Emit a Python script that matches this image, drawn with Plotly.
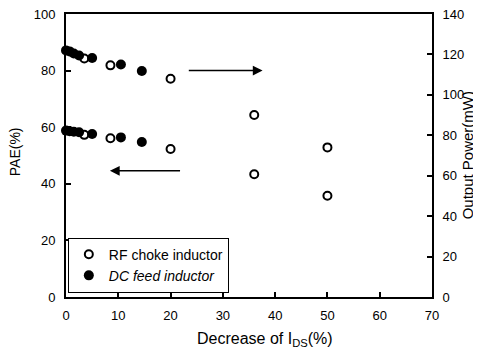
import plotly.graph_objects as go

# Data
rf_x = [3.5, 8.5, 20, 36, 50]
rf_pae = [57.3, 56.1, 52.3, 43.4, 35.8]
rf_power = [118.0, 114.6, 108.0, 90.0, 74.0]

dc_x = [0, 0.7, 1.5, 2.5, 5, 10.5, 14.5]
dc_pae = [58.8, 58.6, 58.4, 58.2, 57.6, 56.4, 54.8]
dc_power = [122.0, 121.5, 120.5, 119.5, 118.2, 115.0, 111.8]

x_ticks = [0, 10, 20, 30, 40, 50, 60, 70]
pae_ticks = [0, 20, 40, 60, 80, 100]
power_ticks = [0, 20, 40, 60, 80, 100, 120, 140]

FONT = "Liberation Sans, Arial, sans-serif"

fig = go.Figure()

open_marker = dict(symbol="circle-open", size=8, color="black", line=dict(width=2, color="black"))
filled_marker = dict(symbol="circle", size=10, color="black")

fig.add_trace(go.Scatter(x=rf_x, y=rf_pae, mode="markers", marker=open_marker,
                         name="RF choke inductor", legendgroup="rf", cliponaxis=False))
fig.add_trace(go.Scatter(x=rf_x, y=rf_power, mode="markers", marker=open_marker,
                         name="RF choke inductor", legendgroup="rf", showlegend=False,
                         yaxis="y2", cliponaxis=False))
fig.add_trace(go.Scatter(x=dc_x, y=dc_pae, mode="markers", marker=filled_marker,
                         name="<i>DC feed inductor</i>", legendgroup="dc", cliponaxis=False))
fig.add_trace(go.Scatter(x=dc_x, y=dc_power, mode="markers", marker=filled_marker,
                         name="<i>DC feed inductor</i>", legendgroup="dc", showlegend=False,
                         yaxis="y2", cliponaxis=False))

axis_common = dict(showline=True, linecolor="black", linewidth=2, ticks="inside",
                   ticklen=5, tickwidth=1.5, tickcolor="black", showgrid=False,
                   zeroline=False, automargin=False, ticklabeloverflow="allow",
                   tickfont=dict(family=FONT, size=13, color="black"))

# The page body adds an 8px offset, so the figure is sized to the visible area.
fig.update_layout(
    width=473, height=343,
    margin=dict(l=58, r=49, t=6, b=54),
    paper_bgcolor="white", plot_bgcolor="white",
    font=dict(family=FONT, size=13, color="black"),
    showlegend=True,
    legend=dict(x=0.005, y=0.21, xanchor="left", yanchor="top",
                bordercolor="black", borderwidth=1, bgcolor="white",
                font=dict(family=FONT, size=14, color="black"),
                tracegroupgap=0, itemwidth=30),
    xaxis=dict(range=[0, 70], tickvals=x_ticks, mirror=True, ticklabelstandoff=5,
               **axis_common),
    yaxis=dict(range=[0, 100], tickvals=pae_ticks, ticklabelstandoff=6,
               **axis_common),
    yaxis2=dict(range=[0, 140], tickvals=power_ticks, overlaying="y", side="right",
                ticklabelstandoff=6, **axis_common),
    annotations=[
        dict(x=37.6, y=80, ax=23.2, ay=80, xref="x", yref="y", axref="x", ayref="y",
             showarrow=True, arrowhead=2, arrowsize=1.3, arrowwidth=1.5, arrowcolor="black", text=""),
        dict(x=8.4, y=44.6, ax=22.1, ay=44.6, xref="x", yref="y", axref="x", ayref="y",
             showarrow=True, arrowhead=2, arrowsize=1.3, arrowwidth=1.5, arrowcolor="black", text=""),
        # axis titles
        dict(text="PAE(%)", x=-0.139, y=0.512, xref="paper", yref="paper",
             xanchor="center", yanchor="middle", textangle=-90, showarrow=False,
             font=dict(family=FONT, size=14, color="black")),
        dict(text="Output Power(mW)", x=1.098, y=0.5, xref="paper", yref="paper",
             xanchor="center", yanchor="middle", textangle=-90, showarrow=False,
             font=dict(family=FONT, size=15, color="black")),
        dict(text="Decrease of I<sub>DS</sub>(%)", x=0.544, y=-0.15, xref="paper", yref="paper",
             xanchor="center", yanchor="middle", showarrow=False,
             font=dict(family=FONT, size=16, color="black")),
    ],
)

fig.write_html("out.html")
